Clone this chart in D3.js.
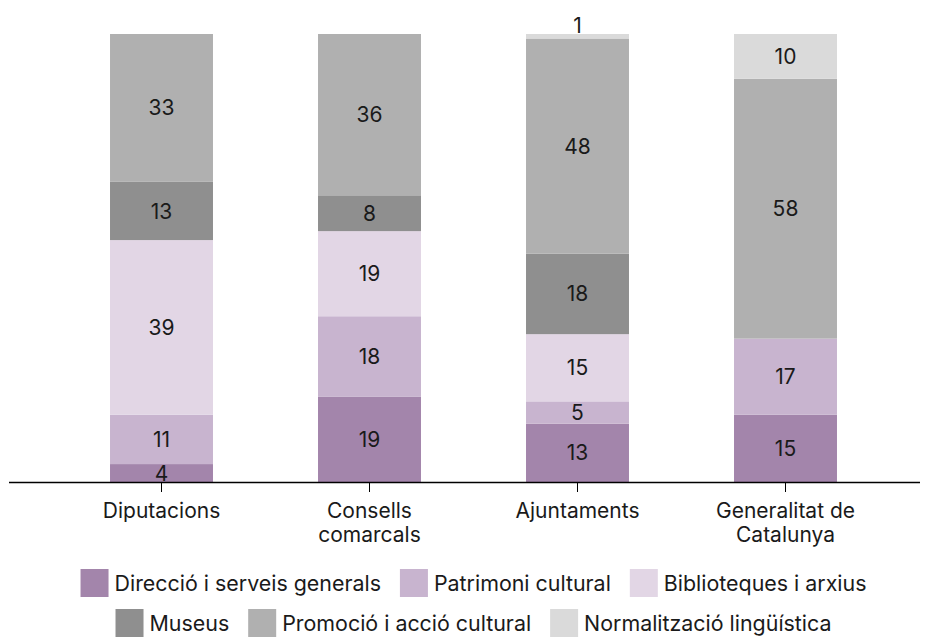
<!DOCTYPE html>
<html>
<head>
<meta charset="utf-8">
<script src="https://cdn.jsdelivr.net/npm/d3@7"></script>
<style>
  html, body { margin: 0; padding: 0; background: #fff; }
  svg { display: block; font-family: Inter, "Noto Sans", sans-serif; }
</style>
</head>
<body>
<svg id="chart" width="928" height="637"></svg>
<script>
const categories = ["Diputacions", "Consells comarcals", "Ajuntaments", "Generalitat de Catalunya"];
const seriesNames = ["Direcció i serveis generals", "Patrimoni cultural", "Biblioteques i arxius", "Museus", "Promoció i acció cultural", "Normalització lingüística"];
const direccio = [4, 19, 13, 15];
const patrimoni = [11, 18, 5, 17];
const biblioteques = [39, 19, 15, 0];
const museus = [13, 8, 18, 0];
const promocio = [33, 36, 48, 58];
const normalitzacio = [0, 0, 1, 10];
const seriesColors = ["#a385ab", "#c8b4cf", "#e2d6e5", "#8f8f8f", "#b0b0b0", "#dadada"];

const seriesValues = [direccio, patrimoni, biblioteques, museus, promocio, normalitzacio];
const rows = categories.map((c, i) => {
  const r = { category: c };
  seriesNames.forEach((s, j) => { r[s] = seriesValues[j][i]; });
  return r;
});

const FS = 21;
const LFS = 21.4;
const svg = d3.select("#chart");
const x = d3.scaleBand().domain(categories).range([57.5, 889.5]).paddingInner(0.505).paddingOuter(0.2525);
const y = d3.scaleLinear().domain([0, 100]).range([482, 34]);
const color = d3.scaleOrdinal().domain(seriesNames).range(seriesColors);

const stack = d3.stack().keys(seriesNames)(rows);

const layers = svg.append("g").selectAll("g").data(stack).join("g").attr("fill", d => color(d.key));
layers.selectAll("rect").data(d => d).join("rect")
  .attr("x", d => x(d.data.category))
  .attr("width", x.bandwidth())
  .attr("y", d => y(d[1]))
  .attr("height", d => y(d[0]) - y(d[1]));

// labels
const labelG = svg.append("g").attr("font-size", FS).attr("fill", "#1a1a1a").attr("text-anchor", "middle");
stack.forEach(layer => {
  layer.forEach(d => {
    const v = d[1] - d[0];
    if (v <= 0) return;
    const h = y(d[0]) - y(d[1]);
    const cy = h < 12 ? y(d[1]) - 9 : (y(d[0]) + y(d[1])) / 2;
    labelG.append("text")
      .attr("x", x(d.data.category) + x.bandwidth() / 2)
      .attr("y", cy)
      .attr("dy", "0.36em")
      .text(v);
  });
});

// axis
const axis = d3.axisBottom(x).tickSize(10).tickSizeOuter(0).tickPadding(8);
const ax = svg.append("g").attr("transform", `translate(0,${y(0)})`).call(axis);
ax.select(".domain").attr("d", `M9,0.5H920`).attr("stroke", "#000").attr("stroke-width", 1.3);
ax.selectAll(".tick line").attr("stroke", "#000");
ax.selectAll(".tick text").attr("font-size", FS).attr("font-family", "Inter, 'Noto Sans', sans-serif").attr("fill", "#1a1a1a").attr("dy", null).text(null)
  .each(function(d) {
    const t = d3.select(this);
    const words = d.split(" ");
    const lines = [];
    let cur = "";
    const meas = svg.append("text").attr("font-size", FS);
    words.forEach(w => {
      const test = cur ? cur + " " + w : w;
      meas.text(test);
      if (meas.node().getComputedTextLength() > 165 && cur) { lines.push(cur); cur = w; }
      else cur = test;
    });
    lines.push(cur);
    meas.remove();
    lines.forEach((l, i) => {
      t.append("tspan").attr("x", 0).attr("y", 36 + i * 24).text(l);
    });
  });

// legend
const legendRows = [seriesNames.slice(0, 3), seriesNames.slice(3)];
const legendCenter = 473.5;
const legendY = [583, 623];
const sq = 28;
legendRows.forEach((names, ri) => {
  const g = svg.append("g").attr("font-size", LFS).attr("fill", "#1a1a1a");
  const items = [];
  let cx = 0;
  names.forEach((n, k) => {
    const it = g.append("g");
    it.append("rect").attr("x", 0).attr("y", -sq / 2).attr("width", sq).attr("height", sq).attr("fill", color(n));
    const tx = it.append("text").attr("x", sq + 6).attr("y", 0).attr("dy", "0.36em").text(n);
    const w = sq + 6 + tx.node().getComputedTextLength();
    items.push({ it, w, off: cx });
    cx += w + (k < names.length - 1 ? 19 : 0);
  });
  const start = legendCenter - cx / 2;
  items.forEach(o => o.it.attr("transform", `translate(${start + o.off},${legendY[ri]})`));
});
</script>
</body>
</html>
